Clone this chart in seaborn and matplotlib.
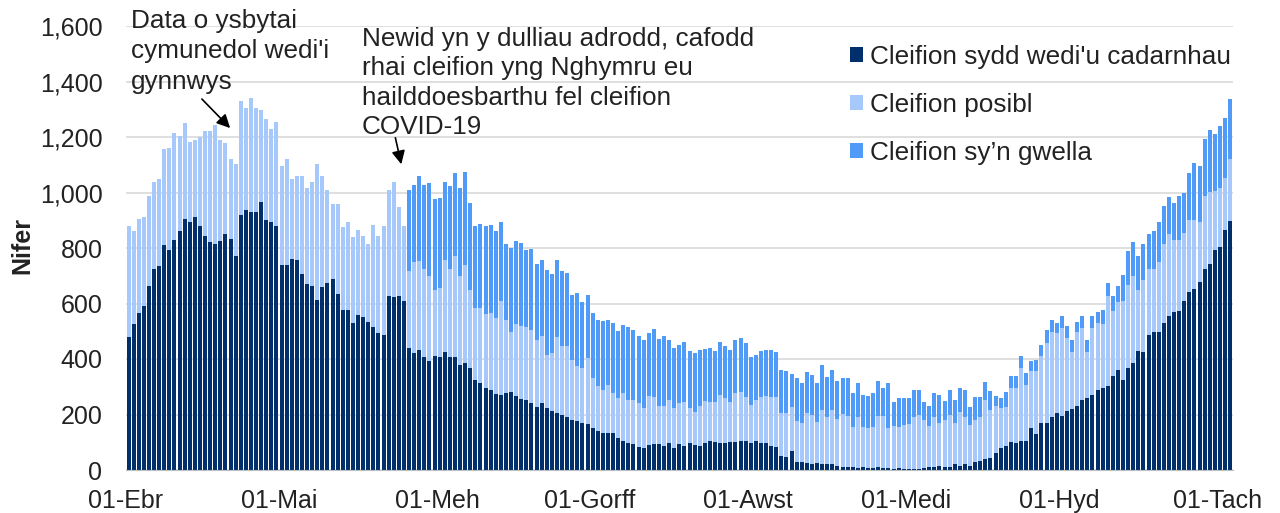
import numpy as np
import pandas as pd
import matplotlib
matplotlib.use('Agg')
import matplotlib.pyplot as plt
from matplotlib.patches import Patch
from matplotlib.ticker import FuncFormatter
import seaborn as sns

# daily values, 01-Apr to 03-Nov (217 days)
confirmed = [478, 526, 564, 592, 664, 726, 734, 810, 794, 828,
             860, 906, 893, 913, 878, 842, 821, 816, 824, 852,
             834, 770, 918, 936, 928, 928, 964, 900, 892, 878,
             740, 740, 762, 756, 708, 672, 664, 612, 660, 674,
             690, 636, 576, 576, 528, 559, 550, 534, 514, 492,
             486, 626, 623, 626, 608,
             438, 420, 432, 406, 391, 410, 406, 427, 406, 408,
             378, 386, 366, 324, 314, 294, 290, 273, 272, 278,
             282, 268, 256, 252, 242, 226, 240, 224, 214, 204,
             200, 190, 180, 176, 170, 166, 151, 142, 132, 132,
             132, 114, 106, 96, 92, 82, 79, 90, 92, 92,
             86, 96, 78, 93, 88, 98, 90, 86, 96, 104,
             102, 96, 96, 100, 100, 104, 104, 96, 104, 96,
             96, 88, 84, 52, 46, 68, 30, 30, 24, 20,
             24, 20, 20, 20, 14, 10, 10, 10, 6, 10,
             6, 8, 10, 6, 6, 4, 8, 4, 4, 4,
             4, 6, 10, 10, 14, 10, 12, 20, 14, 20,
             16, 28, 34, 40, 44, 62, 80, 86, 102, 96,
             106, 106, 150, 128, 168, 168, 190, 204, 196, 214,
             220, 232, 254, 258, 270, 290, 294, 304, 338, 362,
             326, 366, 384, 428, 424, 488, 496, 496, 528, 554,
             568, 572, 608, 640, 654, 676, 726, 744, 792, 802,
             866, 896]

suspected = [400, 336, 340, 318, 322, 313, 315, 347, 368, 386,
             342, 344, 290, 275, 323, 378, 399, 426, 366, 326,
             287, 332, 410, 368, 412, 376, 332, 364, 336, 377,
             357, 382, 286, 305, 353, 344, 375, 490, 398, 334,
             270, 322, 298, 317, 310, 305, 292, 280, 368, 350,
             392, 382, 416, 320, 270,
             280, 331, 322, 318, 307, 240, 250, 331, 320, 362,
             320, 354, 284, 258, 268, 268, 276, 273, 336, 264,
             214, 258, 264, 264, 262, 242, 242, 192, 208, 276,
             248, 256, 218, 200, 198, 238, 179, 160, 158, 174,
             144, 144, 170, 156, 160, 158, 143, 176, 172, 140,
             146, 156, 146, 150, 158, 124, 120, 144, 152, 142,
             144, 174, 164, 146, 178, 178, 158, 140, 150, 166,
             170, 176, 178, 152, 158, 158, 148, 138, 180, 178,
             150, 198, 172, 196, 168, 192, 186, 146, 186, 144,
             144, 148, 184, 190, 144, 154, 148, 158, 160, 188,
             196, 174, 148, 182, 154, 170, 188, 150, 196, 172,
             146, 152, 158, 212, 172, 168, 142, 142, 194, 200,
             260, 202, 208, 230, 242, 290, 308, 288, 314, 260,
             206, 266, 256, 168, 240, 240, 232, 322, 234, 244,
             284, 302, 314, 220, 260, 238, 230, 254, 286, 298,
             260, 258, 246, 260, 246, 218, 260, 258, 212, 216,
             186, 224]

recovering = [0] * 55 + [
             292, 277, 304, 302, 336, 326, 324, 280, 299, 300,
             318, 334, 312, 299, 304, 318, 316, 316, 285, 272,
             304, 298, 298, 278, 293, 275, 274, 304, 284, 276,
             270, 264, 232, 262, 238, 225, 236, 238, 246, 234,
             254, 242, 246, 262, 252, 242, 246, 228, 244, 240,
             250, 216, 216, 208, 214, 206, 210, 202, 188, 192,
             182, 190, 186, 186, 190, 194, 194, 172, 162, 166,
             168, 170, 164, 156, 152, 120, 152, 144, 148, 144,
             138, 160, 142, 144, 140, 128, 136, 120, 120, 116,
             118, 120, 126, 100, 162, 86, 102, 98, 96, 98,
             90, 64, 72, 84, 102, 68, 90, 84, 84, 98,
             64, 82, 70, 64, 68, 36, 38, 52, 42, 42,
             44, 40, 34, 40, 42, 46, 44, 36, 44, 44,
             42, 36, 44, 42, 44, 40, 50, 48, 54, 56,
             92, 120, 122, 122, 130, 124, 134, 142, 136, 132,
             134, 156, 144, 170, 206, 200, 206, 222, 206, 222,
             216, 216]

dates = pd.date_range('2020-04-01', periods=len(confirmed), freq='D')
month_labels = ['01-Ebr', '01-Mai', '01-Meh', '01-Gorff', '01-Awst', '01-Medi', '01-Hyd', '01-Tach']
series_names = ["Cleifion sydd wedi'u cadarnhau", 'Cleifion posibl', 'Cleifion sy\u2019n gwella']
colors = ['#002F6C', '#A6C8FA', '#4F9BF7']

df = pd.DataFrame({'day': np.arange(len(dates)),
                   'confirmed': confirmed,
                   'suspected': suspected,
                   'recovering': recovering})
df['top_suspected'] = df['confirmed'] + df['suspected']
df['total'] = df['top_suspected'] + df['recovering']

sns.set_style('white')
plt.rcParams['font.family'] = ['Liberation Sans', 'DejaVu Sans']

fig = plt.figure(figsize=(12.8, 5.13), dpi=100)
ax = fig.add_axes([126 / 1280, 43 / 513, 1106.7 / 1280, 444 / 513])

# stacked bars: draw cumulative heights back to front
for col, c in zip(['total', 'top_suspected', 'confirmed'], [colors[2], colors[1], colors[0]]):
    sns.barplot(data=df, x='day', y=col, color=c, saturation=1, width=0.8,
                errorbar=None, linewidth=0, ax=ax)

ax.set_xlim(-0.5, len(dates) - 0.5)
ax.set_ylim(0, 1600)
ax.set_yticks(np.arange(0, 1601, 200))
ax.yaxis.set_major_formatter(FuncFormatter(lambda v, p: f'{v:,.0f}'))
ax.grid(axis='y', color='#D9D9D9', lw=1.2)
ax.set_axisbelow(True)

month_pos = [i - 0.5 for i, d in enumerate(dates) if d.day == 1]
ax.set_xticks(month_pos)
ax.set_xticklabels(month_labels)
ax.set_xlabel('')
ax.set_ylabel('')

for s in ['left', 'top', 'right']:
    ax.spines[s].set_visible(False)
ax.spines['bottom'].set_color('#BFBFBF')
ax.tick_params(axis='y', length=0, pad=17, labelsize=18, labelcolor='#222222')
ax.tick_params(axis='x', length=6, width=1, color='#BFBFBF', pad=8, labelsize=18, labelcolor='#222222')

fig.text(22 / 1280, 1 - 246 / 513, 'Nifer', rotation=90, ha='center', va='center',
         fontsize=18, fontweight='bold', color='#222222')

handles = [Patch(facecolor=c, edgecolor='none') for c in colors]
ax.legend(handles, series_names, loc='upper left', bbox_to_anchor=(850 / 1280, 1 - 45 / 513),
          bbox_transform=fig.transFigure, frameon=False, fontsize=18.8, handlelength=0.48,
          handleheight=0.48, handletextpad=0.28, labelspacing=0.92, borderpad=0, borderaxespad=0,
          labelcolor='#222222')

# annotations
fig.text(131 / 1280, 1 - 9 / 513, "Data o ysbytai\ncymunedol wedi'i\ngynnwys",
         ha='left', va='top', fontsize=18.8, linespacing=1.33, color='#222222')
fig.text(362 / 1280, 1 - 27 / 513,
         'Newid yn y dulliau adrodd, cafodd\nrhai cleifion yng Nghymru eu\nhailddoesbarthu fel cleifion\nCOVID-19',
         ha='left', va='top', fontsize=18.8, linespacing=1.28, color='#222222')
arrow = dict(arrowstyle='-|>', color='black', lw=1.2, mutation_scale=20)
ax.annotate('', xy=(20.3, 1225), xytext=(14.0, 1344), arrowprops=arrow, annotation_clip=False)
ax.annotate('', xy=(53.6, 1092), xytext=(52.2, 1207), arrowprops=arrow, annotation_clip=False)

fig.savefig('out.png', dpi=100, facecolor='white')
